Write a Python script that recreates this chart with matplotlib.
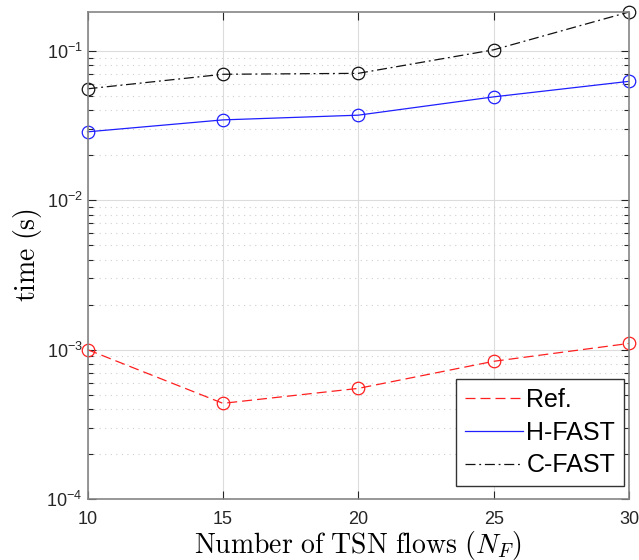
import numpy as np
import matplotlib.pyplot as plt
from matplotlib.lines import Line2D
from matplotlib.ticker import LogLocator, NullFormatter

plt.rcParams['font.family'] = ['Liberation Sans', 'DejaVu Sans']
plt.rcParams['mathtext.fontset'] = 'cm'

# data
n_flows = [10, 15, 20, 25, 30]
t_ref = [1.0e-3, 4.37e-4, 5.5e-4, 8.35e-4, 1.10e-3]
t_hfast = [0.0287, 0.0345, 0.0371, 0.0492, 0.0625]
t_cfast = [0.0557, 0.0697, 0.0707, 0.1016, 0.182]

fig = plt.figure(figsize=(6.39, 5.6), dpi=100)
ax = fig.add_axes([87.5 / 639, 61 / 560, (629 - 87.5) / 639, (499 - 12) / 560])

styles = [
    (t_ref, '#ff1f1f', (0, (8, 4)), 'Ref.'),
    (t_hfast, '#1f1fff', '-', 'H-FAST'),
    (t_cfast, '#111111', (0, (8, 3, 1.5, 3)), 'C-FAST'),
]
handles = []
for vals, col, ls, lab in styles:
    ax.plot(n_flows, vals, color=col, ls=ls, lw=0.9, marker='o', mfc='none',
            ms=9, mew=0.9, clip_on=False)
    handles.append(Line2D([], [], color=col, ls=ls, lw=0.9, label=lab))

ax.set_yscale('log')
ax.set_xlim(10, 30)
ax.set_ylim(1e-4, max(t_cfast))
ax.set_xticks(n_flows)
ax.yaxis.set_major_locator(LogLocator(base=10, numticks=10))
ax.yaxis.set_minor_locator(LogLocator(base=10, subs=np.arange(2, 10), numticks=20))
ax.yaxis.set_minor_formatter(NullFormatter())

ax.grid(True, which='major', color='#dcdcdc', lw=0.8, ls='-')
ax.grid(True, which='minor', axis='y', color='#cfcfcf', lw=0.8, ls=(0, (1, 4)))
ax.set_axisbelow(True)

for s in ax.spines.values():
    s.set_color('#858585')
    s.set_linewidth(1.2)
ax.tick_params(which='both', direction='in', top=True, right=True,
               colors='#262626', labelsize=13)
ax.tick_params(which='major', length=6, width=0.8)
ax.tick_params(which='minor', length=3.5, width=0.8)
ax.tick_params(axis='x', pad=9)

ax.set_xlabel(r'$\mathrm{Number\ of\ TSN\ flows}\ (N_F)$', fontsize=20, labelpad=0)
ax.set_ylabel(r'$\mathrm{time\ (s)}$', fontsize=20, labelpad=2)

leg = ax.legend(handles=handles, loc='lower right',
                bbox_to_anchor=(624 / 639, 74 / 560),
                bbox_transform=fig.transFigure, fontsize=18, fancybox=False,
                framealpha=1, edgecolor='#333333', handlelength=2.3,
                handletextpad=0.15, borderpad=0.35, labelspacing=0.35, borderaxespad=0)
leg.get_frame().set_linewidth(1.0)

fig.savefig('out.png', dpi=100)
